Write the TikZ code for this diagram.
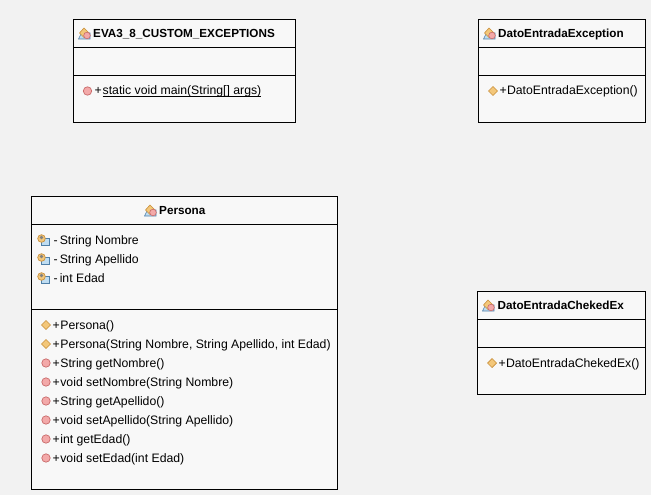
\documentclass[tikz,border=0pt]{standalone}
\usepackage{fontspec}
\setmainfont{Liberation Sans}
\begin{document}
\begin{tikzpicture}[x=1pt,y=-1pt,>=latex,
	titel/.style={font=\fontsize{11.7}{14}\selectfont\bfseries,inner sep=0pt,text=black},
	zeile/.style={font=\fontsize{12.25}{14}\selectfont,inner sep=0pt,anchor=base west,text=black},
	kasten/.style={draw=black,fill=kastenfill,line width=1pt},
	teiler/.style={draw=black,line width=1pt}]

\definecolor{hintergrund}{HTML}{F2F2F2}
\definecolor{kastenfill}{HTML}{F8F8F8}
\definecolor{gelbrand}{HTML}{C98F3A}
\definecolor{gelbfill}{HTML}{F3C77A}
\definecolor{rotrand}{HTML}{C96A6A}
\definecolor{rotfill}{HTML}{F3A9A9}
\definecolor{blaurand}{HTML}{4F7FA8}
\definecolor{blaufill}{HTML}{BFDDF2}

\def\klasse#1#2#3#4#5#6{
	\draw[kasten] (#2,#4) rectangle (#3,#5);
	\draw[teiler] (#2,#4+28) -- (#3,#4+28);
	\draw[teiler] (#2,#6) -- (#3,#6);
}

% class icon next to the title
\def\klassicon#1#2{
	\fill[blaufill,draw=blaurand,line width=0.6pt] (#1-5.5,#2+6) -- (#1-2.5,#2) -- (#1+6,#2) -- (#1+6,#2+6) -- cycle;
	\fill[gelbfill,draw=gelbrand,line width=0.6pt] (#1-4.5,#2) -- (#1,#2-5) -- (#1+5,#2) -- (#1,#2+4.5) -- cycle;
	\fill[rotfill,draw=rotrand,line width=0.6pt] (#1+3,#2+2.5) circle (3.3);
}

\def\rautenicon#1#2{
	\fill[gelbfill,draw=gelbrand,line width=0.7pt] (#1-4.5,#2) -- (#1,#2-4.5) -- (#1+4.5,#2) -- (#1,#2+4.5) -- cycle;
}

\def\kreisicon#1#2{
	\fill[rotfill,draw=rotrand,line width=0.7pt] (#1,#2) circle (4.2);
}

\def\feldicon#1#2{
	\fill[blaufill,draw=blaurand,line width=0.7pt] (#1-1,#2-2) rectangle (#1+7.5,#2+5);
	\fill[gelbfill,draw=gelbrand,line width=0.7pt] (#1-0.5,#2-1.5) circle (3.8);
	\fill[gray] (#1-0.5,#2-2.5) circle (1.8);
}

\fill[hintergrund] (0,0) rectangle (651,495);

% EVA3
\klasse{eva}{73.5}{295.5}{19.5}{122.5}{75.5}
\klassicon{84}{33}
\node[titel,anchor=base west] (evaTitel) at (93,37.5) {EVA3\_8\_CUSTOM\_EXCEPTIONS};
\kreisicon{87.5}{91}
\node[zeile] (evaPlus) at (94.5,95) {+};
\node[zeile] (evaMain) at (102.5,95) {\underline{\smash{static void main(String[] args)}}};

% DatoEntradaException
\klasse{ex}{478.5}{645.5}{19.5}{122.5}{75.5}
\klassicon{489}{33}
\node[titel,anchor=base west] (exTitel) at (498,37.5) {DatoEntradaException};
\rautenicon{493}{91}
\node[zeile] (exKons) at (499.5,95) {+\kern0.2pt DatoEntradaException()};

% DatoEntradaChekedEx
\klasse{ch}{477.5}{645.5}{291.5}{394.5}{347.5}
\klassicon{488}{305}
\node[titel,anchor=base west] (chTitel) at (497.5,309.5) {DatoEntradaChekedEx};
\rautenicon{492}{363}
\node[zeile] (chKons) at (498.5,367) {+\kern0.2pt DatoEntradaChekedEx()};

% Persona
\klasse{pe}{31.5}{337.5}{196.5}{489.5}{309.5}
\klassicon{150}{210}
\node[titel,anchor=base west] (peTitel) at (159,214.5) {Persona};

\foreach \n/\y/\t in {nombre/240/String Nombre,apellido/259/String Apellido,edad/278/int Edad}{
	\feldicon{42}{\y}
	\node[zeile] (\n) at (53.5,\y+4) {-\kern2pt\t};
}

\foreach \n/\y/\t in {konsA/325/Persona(),konsB/344/{Persona(String Nombre, String Apellido, int Edad)}}{
	\rautenicon{46}{\y}
	\node[zeile] (\n) at (52.5,\y+4) {+\kern0.5pt\t};
}

\foreach \n/\y/\t in {getN/363/String getNombre(),setN/382/void setNombre(String Nombre),getA/401/String getApellido(),setA/420/void setApellido(String Apellido),getE/439/int getEdad(),setE/458/void setEdad(int Edad)}{
	\kreisicon{46}{\y}
	\node[zeile] (\n) at (52.5,\y+4) {+\kern0.5pt\t};
}

\end{tikzpicture}
\end{document}
